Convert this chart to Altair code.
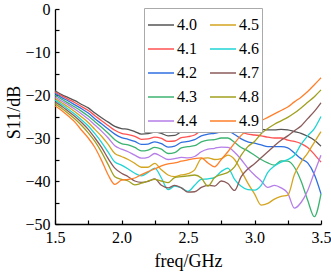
import altair as alt
import pandas as pd

freq = [1.50, 1.55, 1.60, 1.65, 1.70, 1.75, 1.80, 1.85, 1.90, 1.95,
        2.00, 2.05, 2.10, 2.15, 2.20, 2.25, 2.30, 2.35, 2.40, 2.45,
        2.50, 2.55, 2.60, 2.65, 2.70, 2.75, 2.80, 2.85, 2.90, 2.95,
        3.00, 3.05, 3.10, 3.15, 3.20, 3.25, 3.30, 3.35, 3.40, 3.45, 3.50]

series_names = ["4.0", "4.1", "4.2", "4.3", "4.4", "4.5", "4.6", "4.7", "4.8", "4.9"]

s11_40 = [-19.0, -19.9, -20.6, -21.3, -22.2, -23.0, -24.2, -25.3, -26.3, -27.3,
          -27.8, -28.0, -28.5, -29.1, -29.0, -28.6, -28.9, -29.5, -29.4, -28.6,
          -28.5, -28.0, -27.0, -26.6, -26.4, -26.2, -25.9, -26.5, -27.4, -27.8,
          -28.0, -28.0, -28.1, -28.1, -28.0, -28.1, -28.5, -28.9, -29.6, -30.5, -31.9]
s11_41 = [-19.3, -20.2, -21.0, -21.8, -22.7, -23.6, -24.8, -26.0, -27.1, -28.2,
          -28.9, -29.2, -29.6, -30.3, -30.2, -29.8, -30.1, -30.8, -30.7, -29.9,
          -29.7, -29.3, -28.3, -27.9, -27.7, -27.4, -27.1, -27.8, -28.6, -29.1,
          -29.3, -29.5, -29.8, -30.0, -30.0, -30.5, -30.8, -31.3, -32.2, -33.8, -35.6]
s11_42 = [-19.6, -20.6, -21.4, -22.3, -23.2, -24.2, -25.5, -26.7, -27.9, -29.1,
          -29.9, -30.3, -30.8, -31.5, -31.4, -30.9, -31.3, -32.1, -31.9, -31.0,
          -30.8, -30.4, -29.5, -29.1, -28.9, -28.6, -28.4, -29.2, -30.2, -30.9,
          -31.2, -31.6, -32.0, -32.0, -32.0, -32.3, -33.5, -34.8, -35.8, -38.5, -43.0]
s11_43 = [-20.0, -21.0, -21.9, -22.8, -23.8, -24.9, -26.2, -27.5, -28.9, -30.4,
          -31.3, -31.6, -32.2, -33.0, -32.8, -32.2, -32.6, -33.6, -33.4, -32.3,
          -32.0, -31.8, -30.9, -30.5, -30.4, -30.0, -30.0, -31.0, -32.2, -33.0,
          -34.0, -35.0, -35.8, -36.3, -35.3, -35.4, -36.8, -40.0, -44.5, -48.3, -43.0]
s11_44 = [-20.4, -21.4, -22.3, -23.3, -24.4, -25.6, -27.0, -28.4, -30.0, -31.8,
          -32.6, -33.2, -34.0, -34.7, -34.5, -33.6, -34.3, -35.0, -34.8, -34.5,
          -34.6, -34.3, -33.2, -32.6, -32.4, -32.1, -32.2, -33.3, -35.0, -37.0,
          -38.6, -40.0, -41.5, -41.0, -41.6, -42.8, -46.3, -45.0, -42.2, -38.0, -34.0]
s11_45 = [-20.8, -21.8, -22.8, -23.9, -25.1, -26.4, -28.0, -29.6, -31.5, -33.6,
          -34.3, -35.0, -35.9, -36.8, -36.8, -35.9, -37.4, -38.6, -39.0, -38.6,
          -38.3, -37.4, -34.8, -34.6, -35.0, -34.8, -34.0, -35.0, -37.6, -40.5,
          -43.0, -45.6, -45.2, -44.2, -43.6, -43.3, -38.5, -35.6, -33.5, -31.0, -28.5]
s11_46 = [-21.2, -22.2, -23.3, -24.5, -25.8, -27.2, -29.0, -31.0, -33.3, -35.6,
          -36.3, -37.2, -38.2, -38.8, -38.0, -37.0, -39.3, -42.0, -41.2, -41.6,
          -42.4, -41.0, -39.6, -39.5, -39.2, -37.8, -37.0, -39.6, -41.2, -42.0,
          -42.1, -41.0, -38.0, -36.5, -35.6, -35.0, -34.0, -31.5, -29.5, -27.8, -25.0]
s11_47 = [-21.6, -22.6, -23.8, -25.0, -26.4, -28.0, -30.0, -32.2, -34.8, -37.0,
          -38.2, -39.0, -40.0, -40.3, -40.1, -39.5, -41.0, -41.6, -41.0, -41.6,
          -42.6, -42.5, -41.5, -41.0, -41.2, -40.0, -40.6, -42.2, -39.0, -37.2,
          -36.0, -34.6, -33.2, -31.8, -30.5, -29.5, -28.3, -27.2, -25.5, -23.8, -21.8]
s11_48 = [-22.0, -23.1, -24.3, -25.6, -27.1, -28.8, -30.8, -33.3, -36.2, -39.0,
          -39.6, -40.0, -40.9, -40.5, -40.0, -39.6, -40.0, -40.4, -39.2, -39.0,
          -38.8, -38.6, -39.3, -41.2, -39.2, -38.5, -38.0, -36.7, -34.0, -32.0,
          -30.8, -29.0, -27.8, -26.8, -26.0, -25.2, -24.2, -23.0, -21.7, -20.4, -18.8]
s11_49 = [-22.5, -23.6, -24.9, -26.3, -28.2, -30.0, -32.2, -35.2, -38.6, -40.8,
          -39.8, -39.6, -39.3, -38.5, -37.8, -37.2, -36.5, -36.0, -35.8, -35.4,
          -35.1, -34.8, -34.6, -35.8, -36.7, -35.0, -33.2, -31.2, -29.4, -28.0,
          -27.0, -26.0, -25.2, -24.4, -23.6, -22.8, -21.6, -20.5, -19.2, -17.6, -16.0]

x_labels = [1.5, 2.0, 2.5, 3.0, 3.5]
x_minor = [1.5, 1.75, 2.0, 2.25, 2.5, 2.75, 3.0, 3.25, 3.5]
y_labels = [0, -10, -20, -30, -40, -50]
y_minor = [0, -5, -10, -15, -20, -25, -30, -35, -40, -45, -50]

colors = {
    "4.0": "#555555", "4.1": "#ff5252", "4.2": "#2f6fe0", "4.3": "#3cb371",
    "4.4": "#b57ee8", "4.5": "#d4a520", "4.6": "#1fd4d4", "4.7": "#8b5a5a",
    "4.8": "#a0a01e", "4.9": "#ff7f2a",
}

all_series = [s11_40, s11_41, s11_42, s11_43, s11_44, s11_45, s11_46, s11_47, s11_48, s11_49]
rows = []
for name, vals in zip(series_names, all_series):
    for f, v in zip(freq, vals):
        rows.append({"freq": f, "S11": v, "param": name})
df = pd.DataFrame(rows)

color_scale = alt.Scale(domain=series_names, range=[colors[k] for k in series_names])

FONT = "Liberation Serif"
xscale = alt.Scale(domain=[1.5, 3.5], nice=False, zero=False)
yscale = alt.Scale(domain=[-50, 0], nice=False, zero=False)

lines = alt.Chart(df).mark_line(strokeWidth=1.3, interpolate="monotone").encode(
    x=alt.X("freq:Q", scale=xscale, axis=alt.Axis(
        orient="bottom", values=x_labels, format=".1f", ticks=False, grid=False,
        domainColor="black", domainWidth=1.3, labelFont=FONT, labelFontSize=16,
        labelColor="black", labelPadding=5, labelFlush=False,
        title="freq/GHz", titleFont=FONT, titleFontSize=18, titleFontWeight="normal",
        titleColor="black", titleBaseline="alphabetic", titleY=42)),
    y=alt.Y("S11:Q", scale=yscale, axis=alt.Axis(
        orient="left", values=y_labels, format="d", ticks=False, grid=False,
        domainColor="black", domainWidth=1.3, labelFont=FONT, labelFontSize=16,
        labelColor="black", labelPadding=5, labelFlush=False,
        title="S11/dB", titleFont=FONT, titleFontSize=18, titleFontWeight="normal",
        titleColor="black", titleBaseline="alphabetic", titleX=-36, titleY=103)),
    color=alt.Color("param:N", scale=color_scale, legend=alt.Legend(
        title=None, orient="none", legendX=89, legendY=-1, columns=2,
        symbolType="stroke", symbolSize=676, symbolStrokeWidth=1.5,
        labelFont=FONT, labelFontSize=16, labelColor="black", labelOffset=2,
        strokeColor="#aaaaaa", fillColor="white", padding=3,
        rowPadding=2, columnPadding=10)),
)

ticks = alt.Chart(df).mark_line(opacity=0).encode(
    x=alt.X("freq:Q", scale=xscale, axis=alt.Axis(
        orient="top", offset=-215, values=x_minor, labels=False, domain=False,
        ticks=True, tickSize=4, tickColor="black", tickWidth=1.2, grid=False, title=None)),
    y=alt.Y("S11:Q", scale=yscale, axis=alt.Axis(
        orient="right", offset=-266, values=y_minor, labels=False, domain=False,
        ticks=True, tickSize=4, tickColor="black", tickWidth=1.2, grid=False, title=None)),
    detail="param:N",
)

chart = alt.layer(lines, ticks).resolve_axis(
    x="independent", y="independent"
).properties(
    width=266, height=215,
    autosize=alt.AutoSizeParams(type="none"),
    padding={"left": 55, "top": 9, "right": 10, "bottom": 50},
    background="white",
).configure_view(stroke=None)

chart.save("out.html", embed_options={"renderer": "svg", "actions": False})
